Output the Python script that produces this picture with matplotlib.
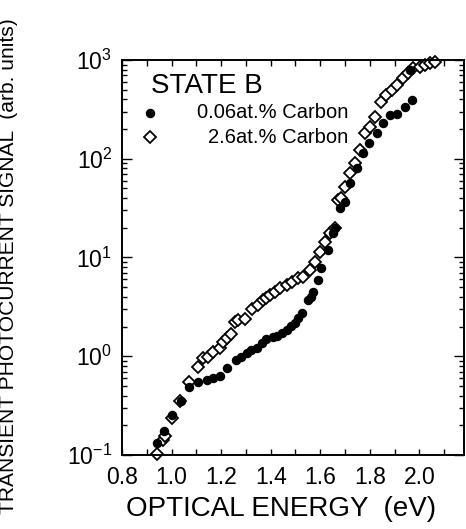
import matplotlib
matplotlib.use("Agg")
import matplotlib.pyplot as plt
from matplotlib.ticker import FixedLocator, LogLocator, NullFormatter, MultipleLocator

plt.rcParams['font.family'] = ['Liberation Sans', 'DejaVu Sans']
plt.rcParams['mathtext.fontset'] = 'custom'
plt.rcParams['mathtext.rm'] = 'Liberation Sans'

# 0.06 at.% Carbon (filled circles)
e_low = [0.940, 0.971, 1.002, 1.038, 1.071, 1.108, 1.142, 1.167, 1.195, 1.222,
         1.262, 1.280, 1.303, 1.320, 1.343, 1.365, 1.383, 1.409, 1.424, 1.444,
         1.464, 1.481, 1.498, 1.511, 1.525, 1.551, 1.562, 1.571, 1.592, 1.605,
         1.632, 1.652, 1.659, 1.679, 1.699, 1.719, 1.749, 1.773, 1.797, 1.827,
         1.854, 1.881, 1.909, 1.941, 1.972, 1.962]
s_low = [0.131, 0.177, 0.257, 0.356, 0.489, 0.548, 0.574, 0.603, 0.631, 0.755,
         0.916, 0.982, 1.07, 1.16, 1.20, 1.36, 1.50, 1.58, 1.60, 1.71,
         1.85, 2.02, 2.16, 2.42, 2.72, 3.71, 3.98, 4.48, 5.92, 7.78,
         11.9, 17.6, 19.8, 31.5, 36.7, 56.4, 80.0, 114, 143, 182,
         229, 277, 284, 334, 393, 790]

# 2.6 at.% Carbon (open diamonds)
e_high = [0.942, 0.967, 0.973, 1.000, 1.034, 1.071, 1.108, 1.128, 1.148, 1.168,
          1.195, 1.208, 1.222, 1.240, 1.256, 1.268, 1.296, 1.323, 1.350, 1.370,
          1.383, 1.397, 1.417, 1.437, 1.464, 1.484, 1.511, 1.531, 1.558, 1.578,
          1.598, 1.619, 1.639, 1.659, 1.672, 1.685, 1.699, 1.719, 1.740, 1.760,
          1.780, 1.800, 1.820, 1.847, 1.867, 1.888, 1.908, 1.934, 1.954, 1.975,
          2.002, 2.022, 2.042, 2.062]
s_high = [0.102, 0.142, 0.156, 0.236, 0.355, 0.552, 0.784, 0.953, 0.99, 1.11,
          1.20, 1.40, 1.52, 1.68, 2.24, 2.33, 2.37, 2.99, 3.30, 3.71,
          3.86, 4.17, 4.51, 4.88, 5.27, 5.69, 6.15, 6.39, 7.47, 9.06,
          11.4, 14.5, 17.6, 19.8, 38.2, 39.8, 52.2, 71.3, 90, 123,
          181, 211, 267, 378, 442, 497, 558, 653, 733, 824,
          855, 890, 926, 961]

x_ticks = [0.8, 1.0, 1.2, 1.4, 1.6, 1.8, 2.0]
y_ticks = [0.1, 1, 10, 100, 1000]
y_exps = ['-1', '0', '1', '2', '3']

fig = plt.figure(figsize=(4.66, 5.29), dpi=100)
ax = fig.add_axes([0.2618, 0.1399, 0.7339, 0.7467])

ax.plot(e_high, s_high, linestyle='none', marker='D', markersize=6.4,
        markerfacecolor='white', markeredgecolor='black', markeredgewidth=1.3,
        clip_on=False, zorder=2)
ax.plot(e_low, s_low, linestyle='none', marker='o', markersize=5.8,
        markerfacecolor='black', markeredgecolor='black', clip_on=False, zorder=3)

ax.set_yscale('log')
ax.set_xlim(0.8, 2.18)
ax.set_ylim(0.1, 1000)

ax.xaxis.set_major_locator(FixedLocator(x_ticks))
ax.xaxis.set_minor_locator(MultipleLocator(0.1))
ax.set_xticklabels([f'{v:.1f}' for v in x_ticks])
ax.yaxis.set_major_locator(FixedLocator(y_ticks))
ax.set_yticklabels(['10' + r'$^{\mathregular{' + e + '}}$' for e in y_exps])
ax.yaxis.set_minor_locator(LogLocator(base=10, subs=range(2, 10)))
ax.yaxis.set_minor_formatter(NullFormatter())

ax.tick_params(axis='both', which='both', direction='in', top=True, right=True,
               width=1.0, labelsize=16.5)
ax.tick_params(axis='x', which='major', length=4, pad=8)
ax.tick_params(axis='x', which='minor', length=4)
ax.tick_params(axis='y', which='major', length=7, pad=7)
ax.tick_params(axis='y', which='minor', length=3.5)
for sp in ax.spines.values():
    sp.set_linewidth(1.4)

ax.set_xlabel('OPTICAL ENERGY  (eV)', fontsize=20)
ax.xaxis.set_label_coords(0.465, -0.103)
fig.text(0.019, 0.497, 'TRANSIENT PHOTOCURRENT SIGNAL  (arb. units)', rotation=90,
         fontsize=15.1, ha='center', va='center')

# legend block
ax.text(0.085, 0.935, 'STATE B', transform=ax.transAxes, fontsize=20,
        ha='left', va='center')
ax.plot([0.082], [0.866], transform=ax.transAxes, linestyle='none', marker='o',
        markersize=5.8, color='black')
ax.plot([0.082], [0.805], transform=ax.transAxes, linestyle='none', marker='D',
        markersize=6.4, markerfacecolor='white', markeredgecolor='black',
        markeredgewidth=1.3)
ax.text(0.662, 0.866, '0.06at.% Carbon', transform=ax.transAxes, fontsize=14.5,
        ha='right', va='center')
ax.text(0.662, 0.805, '2.6at.% Carbon', transform=ax.transAxes, fontsize=14.5,
        ha='right', va='center')

fig.savefig('out.png', dpi=100)
